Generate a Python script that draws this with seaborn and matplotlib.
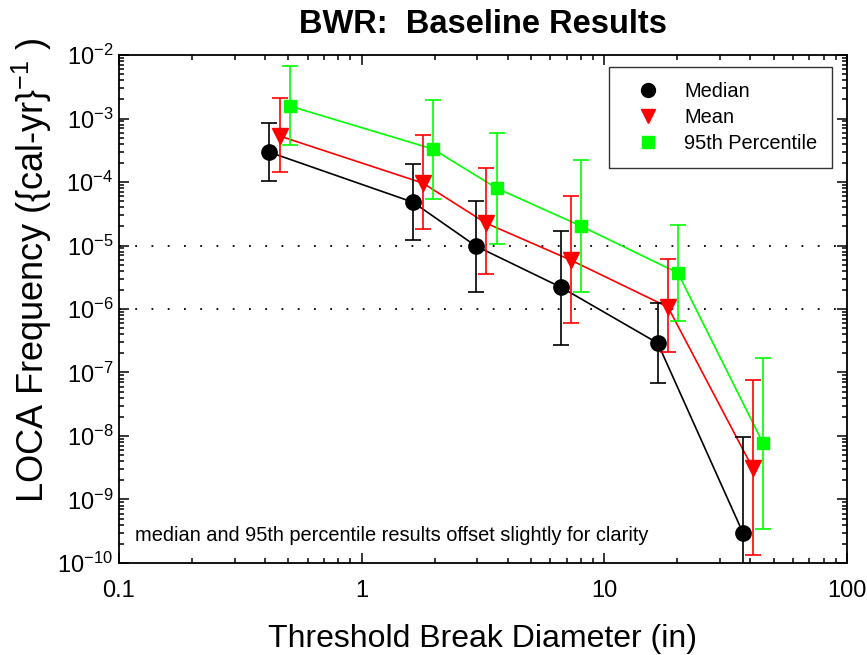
import numpy as np
import pandas as pd
import matplotlib
matplotlib.use("Agg")
import matplotlib.pyplot as plt
from matplotlib.lines import Line2D
from matplotlib.ticker import LogLocator, LogFormatterMathtext, FixedLocator, FixedFormatter, NullFormatter
import seaborn as sns

# ---- data ----
series_names = ["Median", "Mean", "95th Percentile"]

median_x = [0.415, 1.63, 2.96, 6.63, 16.6, 37.3]
median_y = [2.97e-4, 4.8e-5, 9.8e-6, 2.2e-6, 2.9e-7, 2.95e-10]
median_lo = [1.04e-4, 1.22e-5, 1.86e-6, 2.7e-7, 6.8e-8, 5e-11]
median_hi = [8.5e-4, 1.92e-4, 5.0e-5, 1.7e-5, 1.24e-6, 9.8e-9]

mean_x = [0.46, 1.79, 3.25, 7.27, 18.3, 40.9]
mean_y = [5.3e-4, 9.6e-5, 2.26e-5, 5.9e-6, 1.07e-6, 3.1e-9]
mean_lo = [1.44e-4, 1.82e-5, 3.56e-6, 6.0e-7, 2.1e-7, 1.34e-10]
mean_hi = [2.1e-3, 5.5e-4, 1.66e-4, 6.0e-5, 6.1e-6, 7.6e-8]

p95_x = [0.507, 1.97, 3.6, 8.0, 20.1, 45.0]
p95_y = [1.57e-3, 3.3e-4, 8.0e-5, 2.03e-5, 3.7e-6, 7.8e-9]
p95_lo = [3.8e-4, 5.4e-5, 1.06e-5, 1.86e-6, 6.5e-7, 3.4e-10]
p95_hi = [6.7e-3, 1.95e-3, 6.0e-4, 2.2e-4, 2.1e-5, 1.7e-7]

ref_lines = [1e-5, 1e-6]
x_ticks = [0.1, 1, 10, 100]
x_tick_labels = ["0.1", "1", "10", "100"]

colors = {"Median": "#000000", "Mean": "#ff0000", "95th Percentile": "#00ff00"}
markers = {"Median": "o", "Mean": "v", "95th Percentile": "s"}
msizes = {"Median": 11, "Mean": 11, "95th Percentile": 9}

series = {
    "Median": (median_x, median_y, median_lo, median_hi),
    "Mean": (mean_x, mean_y, mean_lo, mean_hi),
    "95th Percentile": (p95_x, p95_y, p95_lo, p95_hi),
}

rows = []
for name, (xs, ys, lo, hi) in series.items():
    for x, y in zip(xs, ys):
        rows.append({"x": x, "y": y, "series": name})
df = pd.DataFrame(rows)

sns.set_style("ticks")
plt.rcParams["font.family"] = ["Liberation Sans", "DejaVu Sans"]
plt.rcParams["mathtext.fontset"] = "custom"
plt.rcParams["mathtext.rm"] = "Liberation Sans"
plt.rcParams["mathtext.it"] = "Liberation Sans"
plt.rcParams["mathtext.bf"] = "Liberation Sans:bold"
for k in ["text.color", "axes.labelcolor", "xtick.color", "ytick.color", "axes.edgecolor"]:
    plt.rcParams[k] = "black"

fig = plt.figure(figsize=(8.67, 6.55), dpi=100)
ax = fig.add_axes([0.137, 0.1405, 0.840, 0.7755])

ax.set_xscale("log")
ax.set_yscale("log")

for yv in ref_lines:
    ax.axhline(yv, color="black", lw=1.3, linestyle=(0, (1, 8)), zorder=1)

# lines through seaborn
for name in series_names:
    sub = df[df["series"] == name]
    sns.lineplot(data=sub, x="x", y="y", ax=ax, color=colors[name], lw=1.2,
                 sort=False, estimator=None, legend=False, zorder=2)

# error bars and markers
for name in series_names:
    xs, ys, lo, hi = series[name]
    ys_a = np.array(ys)
    yerr = [ys_a - np.array(lo), np.array(hi) - ys_a]
    ax.errorbar(xs, ys, yerr=yerr, fmt="none", ecolor=colors[name],
                elinewidth=1.2, capsize=5.5, capthick=1.2, zorder=3)
    ax.plot(xs, ys, linestyle="none", marker=markers[name], ms=msizes[name],
            color=colors[name], mec=colors[name], zorder=4)

ax.set_xlim(0.1, 100)
ax.set_ylim(1e-10, 1e-2)

ax.xaxis.set_major_locator(FixedLocator(x_ticks))
ax.xaxis.set_major_formatter(FixedFormatter(x_tick_labels))
ax.xaxis.set_minor_locator(LogLocator(base=10, subs=np.arange(2, 10), numticks=20))
ax.xaxis.set_minor_formatter(NullFormatter())
ax.yaxis.set_major_locator(LogLocator(base=10, numticks=20))
ax.yaxis.set_major_formatter(LogFormatterMathtext())
ax.yaxis.set_minor_locator(LogLocator(base=10, subs=np.arange(2, 10), numticks=20))
ax.yaxis.set_minor_formatter(NullFormatter())

ax.tick_params(which="both", direction="in", top=True, right=True, colors="black",
               width=1.1)
ax.tick_params(which="major", length=7, labelsize=17)
ax.tick_params(axis="x", which="major", pad=12)
ax.tick_params(axis="y", which="major", pad=4)
ax.tick_params(which="minor", length=3.5)
for sp in ax.spines.values():
    sp.set_visible(True)
    sp.set_color("black")
    sp.set_linewidth(1.3)

ax.set_xlabel("Threshold Break Diameter (in)", fontsize=23, labelpad=16)
ax.set_ylabel("LOCA Frequency ({cal-yr}$^{-1}$ )", fontsize=26)
ax.yaxis.set_label_coords(-0.089, 0.577)
ax.set_title("BWR:  Baseline Results", fontsize=23.5, fontweight="bold", pad=16)

ax.text(0.022, 0.035, "median and 95th percentile results offset slightly for clarity",
        transform=ax.transAxes, fontsize=14.4, ha="left", va="bottom")

handles = [Line2D([0], [0], linestyle="none", marker=markers[n], ms=msizes[n] - 1,
                  color=colors[n], mec=colors[n]) for n in series_names]
leg = ax.legend(handles, series_names, loc="upper right", bbox_to_anchor=(0.98, 0.976),
                fontsize=14.4, frameon=True, fancybox=False, edgecolor="black",
                handletextpad=0.6, borderpad=0.75, labelspacing=0.35, borderaxespad=0,
                handlelength=2.4)
leg.get_frame().set_linewidth(1.0)

fig.savefig("out.png", dpi=100, facecolor="white")
